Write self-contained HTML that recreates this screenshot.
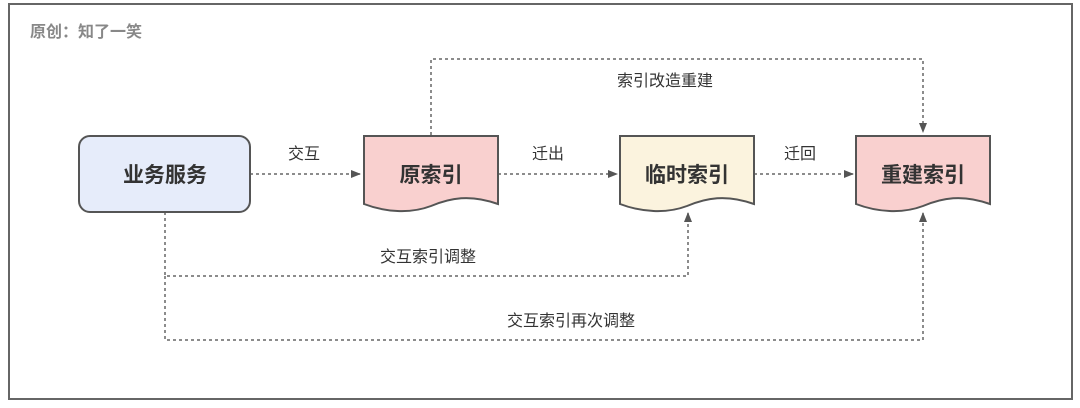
<!DOCTYPE html>
<html><head><meta charset="utf-8"><style>
body{margin:0;background:#fff;}
svg text{font-family:"Liberation Sans","Noto Sans CJK SC",sans-serif;}
</style></head><body>
<svg width="1080" height="403" viewBox="0 0 1080 403" xmlns="http://www.w3.org/2000/svg">
<defs><marker id="a" markerWidth="10" markerHeight="10" refX="9" refY="5" orient="auto" markerUnits="userSpaceOnUse"><path d="M0,1 L10,5 L0,9 z" fill="#555"/></marker></defs>
<rect x="9" y="4" width="1063" height="395" fill="#fff" stroke="#666" stroke-width="2"/>
<text x="30" y="37" font-size="16" font-weight="bold" fill="#888">原创：知了一笑</text>
<g fill="none" stroke="#666" stroke-width="1.5" stroke-dasharray="3,3">
<path d="M250,174 H360" marker-end="url(#a)"/>
<path d="M498,174 H617" marker-end="url(#a)"/>
<path d="M754,174 H853" marker-end="url(#a)"/>
<path d="M431,135 V59 H923 V132" marker-end="url(#a)"/>
<path d="M165,212 V276 H688 V213" marker-end="url(#a)"/>
<path d="M165,276 V340 H923 V213" marker-end="url(#a)"/>
</g>
<rect x="79" y="136" width="171" height="76" rx="11" fill="#e6ecfa" stroke="#555" stroke-width="2"/>
<path d="M364,136 H498 V204 C470,194 450,198 431,206 C410,214 385,212 364,204 Z" fill="#f9d0cf" stroke="#555" stroke-width="2"/>
<path d="M620,136 H754 V204 C726,194 706,198 687,206 C666,214 641,212 620,204 Z" fill="#fbf3de" stroke="#555" stroke-width="2"/>
<path d="M856,136 H990 V204 C962,194 942,198 923,206 C902,214 877,212 856,204 Z" fill="#f9d0cf" stroke="#555" stroke-width="2"/>
<g font-size="21" font-weight="bold" fill="#333" text-anchor="middle">
<text x="165" y="182">业务服务</text>
<text x="431" y="182">原索引</text>
<text x="687" y="182">临时索引</text>
<text x="923" y="182">重建索引</text>
</g>
<g font-size="16" fill="#333" text-anchor="middle">
<text x="304" y="159">交互</text>
<text x="548" y="159">迁出</text>
<text x="800" y="159">迁回</text>
<text x="665" y="86">索引改造重建</text>
<text x="428" y="262">交互索引调整</text>
<text x="571" y="326">交互索引再次调整</text>
</g>
</svg>
</body></html>
